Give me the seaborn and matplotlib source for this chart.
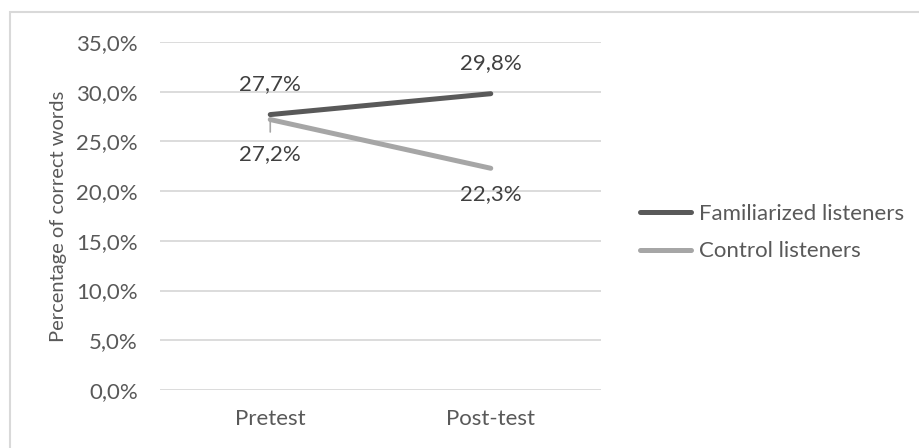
import matplotlib
matplotlib.use("Agg")
import matplotlib.pyplot as plt
import seaborn as sns
import pandas as pd
from matplotlib.patches import Rectangle

tests = ["Pretest", "Post-test"]
familiarized = [0.277, 0.298]
control = [0.272, 0.223]
series_names = ["Familiarized listeners", "Control listeners"]
y_ticks = [0.0, 0.05, 0.10, 0.15, 0.20, 0.25, 0.30, 0.35]

df = pd.DataFrame({
    "test": tests * 2,
    "value": familiarized + control,
    "group": [series_names[0]] * 2 + [series_names[1]] * 2,
})

sns.set_theme(style="white")
plt.rcParams["font.family"] = ["Lato", "DejaVu Sans"]

text_col = "#595959"
label_col = "#404040"
colors = {series_names[0]: "#595959", series_names[1]: "#A6A6A6"}
FS = 16

fig = plt.figure(figsize=(9.2, 4.48), dpi=100)
ax = fig.add_axes([160/920, 1-390/448, 441/920, 348/448])

sns.lineplot(data=df, x="test", y="value", hue="group", palette=colors,
             linewidth=3.6, ax=ax, sort=False, solid_capstyle="round")

ax.set_xlim(-0.5, 1.5)
ax.set_ylim(0, 0.35)
ax.set_yticks(y_ticks)
ax.set_yticklabels([f"{v*100:.1f}%".replace(".", ",") for v in y_ticks])
ax.grid(axis="y", color="#D9D9D9", linewidth=1.3)
ax.set_axisbelow(True)
for s in ax.spines.values():
    s.set_visible(False)
ax.tick_params(axis="both", length=0, labelsize=FS, colors=text_col)
ax.tick_params(axis="y", pad=16)
ax.tick_params(axis="x", pad=14)
ax.set_xlabel("")
ax.set_ylabel("Percentage of correct words", fontsize=14.5, color=text_col)
ax.yaxis.set_label_coords(-0.211, 0.5)

def fmt(v):
    return f"{v*100:.1f}%".replace(".", ",")

for i, v in enumerate(familiarized):
    ax.annotate(fmt(v), (i, v), xytext=(0, 22), textcoords="offset points",
                ha="center", va="center", fontsize=FS, color=label_col)
ax.annotate(fmt(control[0]), (0, control[0]), xytext=(0, -25), textcoords="offset points",
            ha="center", va="center", fontsize=FS, color=label_col,
            arrowprops=dict(arrowstyle="-", color="#A6A6A6", lw=1.2, shrinkA=6.5, shrinkB=0))
ax.annotate(fmt(control[1]), (1, control[1]), xytext=(0, -18.5), textcoords="offset points",
            ha="center", va="center", fontsize=FS, color=label_col)

leg = ax.legend(loc="center left", bbox_to_anchor=((640-160)/441, (390-232.5)/348),
                frameon=False, fontsize=FS, handlelength=2.3, handletextpad=0.35,
                labelspacing=0.8, borderpad=0, borderaxespad=0,
                labelcolor=text_col)
for h in leg.get_lines():
    h.set_linewidth(3.6)
    h.set_solid_capstyle("round")

fig.patches.append(Rectangle((10/920, -50/448), 1000/920, (448-12+50)/448,
                             transform=fig.transFigure, fill=False,
                             edgecolor="#D9D9D9", linewidth=1.5))

fig.savefig("out.png", dpi=100)
